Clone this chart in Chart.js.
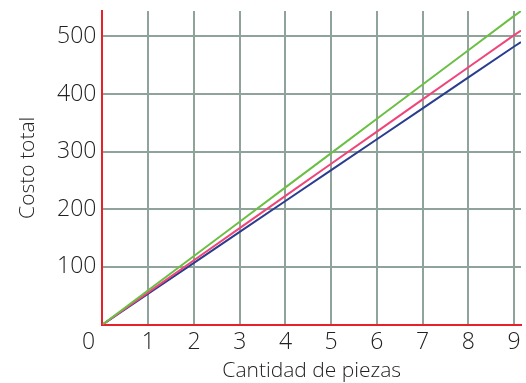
<!doctype html>
<html lang="es">
<head>
  <meta charset="utf-8">
  <title>Costo total por cantidad de piezas</title>
  <script src="https://cdn.jsdelivr.net/npm/chart.js@4.4.1/dist/chart.umd.min.js"></script>
  <style>
    body { margin: 0; background: #fff; }
  </style>
</head>
<body>
  <canvas id="grafica" width="526" height="383"></canvas>
  <script>
    // piezas y costo de cada una de las tres rectas
    var piezas = [0, 1, 2, 3, 4, 5, 6, 7, 8, 9, 9.15];
    var costoVerde = [0, 59.5, 119, 178.5, 238, 297.5, 357, 416.5, 476, 535.5, 544];
    var costoRosa = [0, 55.8, 111.6, 167.4, 223.2, 279, 334.8, 390.6, 446.4, 502.2, 510];
    var costoAzul = [0, 53.6, 107.2, 160.8, 214.4, 268, 321.6, 375.2, 428.8, 482.4, 490];
    var ticksX = [0, 1, 2, 3, 4, 5, 6, 7, 8, 9];
    var ticksY = [100, 200, 300, 400, 500];

    var fuente = { family: 'Open Sans', weight: '300', size: 23, lineHeight: 1.1 };
    var fuenteTitulo = { family: 'Open Sans', weight: '300', size: 21, lineHeight: 1.1 };
    var rojo = '#e8202a';
    var rejilla = '#8fa39a';

    function puntos(valores) {
      return piezas.map(function (p, i) { return { x: p, y: valores[i] }; });
    }

    var ctx = document.getElementById('grafica').getContext('2d');
    new Chart(ctx, {
      type: 'line',
      data: {
        datasets: [
          { data: puntos(costoVerde), borderColor: '#6cbf45' },
          { data: puntos(costoRosa), borderColor: '#f0457a' },
          { data: puntos(costoAzul), borderColor: '#2b3d8f' }
        ]
      },
      options: {
        responsive: false,
        animation: false,
        layout: { padding: { top: 11, right: 5, left: 16, bottom: 0 } },
        elements: {
          line: { borderWidth: 2, tension: 0 },
          point: { radius: 0 }
        },
        plugins: { legend: { display: false }, tooltip: { enabled: false } },
        scales: {
          x: {
            type: 'linear',
            min: 0,
            max: 9.15,
            afterBuildTicks: function (eje) {
              eje.ticks = ticksX.map(function (v) { return { value: v }; });
            },
            ticks: {
              color: '#222',
              font: fuente,
              padding: 5,
              autoSkip: false,
              maxRotation: 0,
              callback: function (v) { return v === 0 ? '0    \u2009' : String(v); }
            },
            grid: { color: rejilla, lineWidth: 2, drawTicks: false },
            border: { color: rojo, width: 2 },
            title: {
              display: true,
              text: 'Cantidad de piezas',
              color: '#222',
              font: fuenteTitulo,
              padding: { top: 0, bottom: 0 }
            }
          },
          y: {
            min: 0,
            max: 544,
            afterBuildTicks: function (eje) {
              eje.ticks = [0].concat(ticksY).map(function (v) { return { value: v }; });
            },
            // el 500 queda lejos del borde: no hace falta reservar espacio arriba
            afterFit: function (eje) { eje.paddingTop = 0; },
            ticks: {
              color: '#222',
              font: fuente,
              padding: 6,
              callback: function (v) { return v === 0 ? '' : String(v); }
            },
            grid: { color: rejilla, lineWidth: 2, drawTicks: false },
            border: { color: rojo, width: 2 },
            title: {
              display: true,
              text: 'Costo total',
              color: '#222',
              font: fuenteTitulo,
              padding: { top: 0, bottom: 12 }
            }
          }
        }
      }
    });
  </script>
</body>
</html>
